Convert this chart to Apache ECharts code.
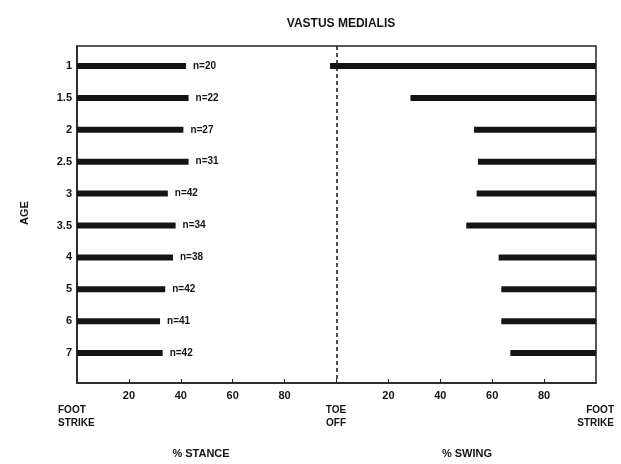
<!DOCTYPE html>
<html>
<head>
<meta charset="utf-8">
<script src="https://cdn.jsdelivr.net/npm/echarts@6/dist/echarts.min.js"></script>
<style>
  html, body { margin: 0; padding: 0; background: #fff; }
  #chart { width: 621px; height: 464px; }
</style>
</head>
<body>
<div id="chart"></div>
<script>
  // age groups, top to bottom
  const ages = ['1', '1.5', '2', '2.5', '3', '3.5', '4', '5', '6', '7'];
  // end of activity in stance (% stance, starts at foot strike)
  const stanceEnd = [42, 43, 41, 43, 35, 38, 37, 34, 32, 33];
  // start of activity in swing (% swing, runs to foot strike)
  const swingStart = [-2.5, 28.5, 53, 54.5, 54, 50, 62.5, 63.5, 63.5, 67];
  const sampleN = [20, 22, 27, 31, 42, 34, 38, 42, 41, 42];
  const stanceTicks = [20, 40, 60, 80];
  const swingTicks = [20, 40, 60, 80];

  const font = 'Liberation Sans';
  const ink = '#141414';

  const chart = echarts.init(document.getElementById('chart'));

  const stanceData = ages.map((a, i) => [i, 0, stanceEnd[i], sampleN[i]]);
  const swingData = ages.map((a, i) => [i, 100 + swingStart[i], 200]);

  function barItem(withLabel) {
    return function (params, api) {
      const y = api.value(0);
      const p0 = api.coord([api.value(1), y]);
      const p1 = api.coord([api.value(2), y]);
      const children = [{
        type: 'rect',
        shape: { x: p0[0], y: p0[1] - 3, width: p1[0] - p0[0], height: 6 },
        style: { fill: ink }
      }];
      if (withLabel) {
        children.push({
          type: 'text',
          x: p1[0] + 7,
          y: p1[1],
          style: {
            text: 'n=' + api.value(3),
            fill: ink,
            font: 'bold 10px ' + font,
            verticalAlign: 'middle'
          }
        });
      }
      return { type: 'group', children: children };
    };
  }

  const labelTicks = stanceTicks.concat(swingTicks.map(v => v + 100));

  chart.setOption({
    animation: false,
    title: {
      text: 'VASTUS MEDIALIS',
      left: 336,
      textAlign: 'center',
      top: 13,
      textStyle: { fontFamily: font, fontSize: 12, fontWeight: 'bold', color: ink }
    },
    grid: {
      left: 77, right: 25, top: 46, bottom: 81,
      show: true, borderColor: '#222', borderWidth: 1.5
    },
    xAxis: {
      type: 'value',
      min: 0,
      max: 200,
      splitLine: { show: false },
      axisLine: { onZero: false, lineStyle: { color: '#222', width: 1.5 } },
      axisTick: {
        inside: true, length: 4,
        customValues: labelTicks.concat([100]),
        lineStyle: { color: '#222' }
      },
      axisLabel: {
        customValues: labelTicks,
        formatter: v => (v > 100 ? v - 100 : v),
        margin: 7,
        fontFamily: font, fontSize: 11, fontWeight: 'bold', color: ink
      }
    },
    yAxis: {
      type: 'value',
      inverse: true,
      min: -0.63,
      max: 9.94,
      splitLine: { show: false },
      axisLine: { show: true, onZero: false, lineStyle: { color: '#222', width: 1.5 } },
      axisTick: { show: false },
      axisLabel: {
        customValues: [0, 1, 2, 3, 4, 5, 6, 7, 8, 9],
        formatter: v => ages[v],
        margin: 5,
        fontFamily: font, fontSize: 11, fontWeight: 'bold', color: ink
      }
    },
    series: [
      {
        name: 'stance',
        type: 'custom',
        renderItem: barItem(true),
        encode: { x: [1, 2], y: 0 },
        data: stanceData,
        markLine: {
          silent: true,
          symbol: 'none',
          label: { show: false },
          lineStyle: { color: ink, width: 1.5, type: [4, 3] },
          data: [{ xAxis: 100 }]
        }
      },
      {
        name: 'swing',
        type: 'custom',
        renderItem: barItem(false),
        encode: { x: [1, 2], y: 0 },
        data: swingData
      }
    ],
    graphic: [
      {
        type: 'text', x: 25, y: 213, rotation: Math.PI / 2,
        style: { text: 'AGE', fill: ink, font: 'bold 11px ' + font, align: 'center', verticalAlign: 'middle' }
      },
      {
        type: 'text', x: 58, y: 404,
        style: { text: 'FOOT\nSTRIKE', fill: ink, font: 'bold 10px ' + font, lineHeight: 13, align: 'left' }
      },
      {
        type: 'text', x: 336, y: 404,
        style: { text: 'TOE\nOFF', fill: ink, font: 'bold 10px ' + font, lineHeight: 13, align: 'center' }
      },
      {
        type: 'text', x: 614, y: 404,
        style: { text: 'FOOT\nSTRIKE', fill: ink, font: 'bold 10px ' + font, lineHeight: 13, align: 'right' }
      },
      {
        type: 'text', x: 201, y: 454,
        style: { text: '% STANCE', fill: ink, font: 'bold 11px ' + font, align: 'center', verticalAlign: 'middle' }
      },
      {
        type: 'text', x: 467, y: 454,
        style: { text: '% SWING', fill: ink, font: 'bold 11px ' + font, align: 'center', verticalAlign: 'middle' }
      }
    ]
  });
</script>
</body>
</html>
